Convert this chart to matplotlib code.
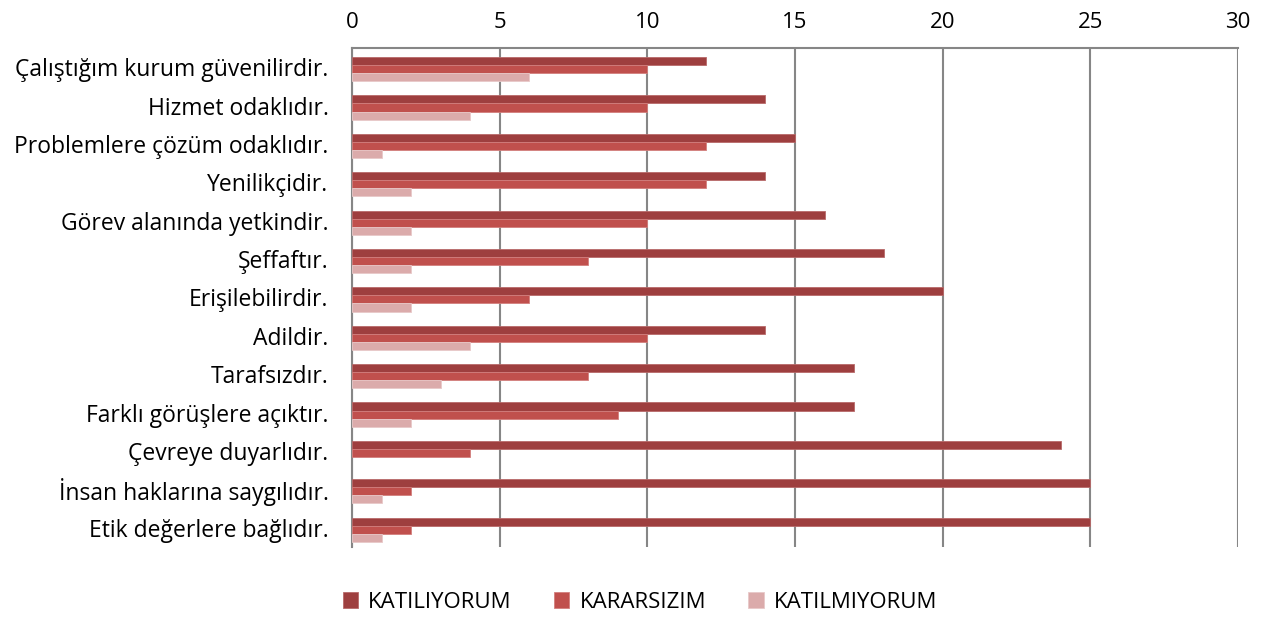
import numpy as np
import matplotlib
matplotlib.use("Agg")
import matplotlib.pyplot as plt

plt.rcParams['font.family'] = ['Open Sans', 'DejaVu Sans']

categories = ["Çalıştığım kurum güvenilirdir.", "Hizmet odaklıdır.", "Problemlere çözüm odaklıdır.",
              "Yenilikçidir.", "Görev alanında yetkindir.", "Şeffaftır.", "Erişilebilirdir.",
              "Adildir.", "Tarafsızdır.", "Farklı görüşlere açıktır.", "Çevreye duyarlıdır.",
              "İnsan haklarına saygılıdır.", "Etik değerlere bağlıdır."]
katiliyorum = [12, 14, 15, 14, 16, 18, 20, 14, 17, 17, 24, 25, 25]
kararsizim = [10, 10, 12, 12, 10, 8, 6, 10, 8, 9, 4, 2, 2]
katilmiyorum = [6, 4, 1, 2, 2, 2, 2, 4, 3, 2, 0, 1, 1]

series = [("KATILIYORUM", katiliyorum, "#9E3F3F", "#B86A6A"),
          ("KARARSIZIM", kararsizim, "#C0504D", "#D27F7D"),
          ("KATILMIYORUM", katilmiyorum, "#DBABAB", "#E8C9C9")]

fig = plt.figure(figsize=(12.72, 6.18), dpi=100)
ax = fig.add_axes([352/1272, 1-547/618, (1238-352)/1272, (547-48)/618])

y = np.arange(len(categories))
h = 0.21
for i, (name, vals, col, edge) in enumerate(series):
    lw = [0.6 if v > 0 else 0 for v in vals]
    ax.barh(y + (i - 1) * h + 0.05, vals, height=h, color=col, edgecolor=edge, linewidth=lw,
            label=name, zorder=3)

ax.set_ylim(len(categories) - 0.5, -0.5)
ax.set_xlim(0, 30)
ax.set_xticks(range(0, 31, 5))
ax.xaxis.tick_top()
ax.tick_params(axis='x', length=0, labelsize=16, pad=11)
ax.set_yticks(y)
ax.set_yticklabels(categories, fontsize=16.5)
ax.tick_params(axis='y', length=0, pad=17)
ax.grid(axis='x', color='#868686', linewidth=1.5, zorder=0)
for s in ['bottom', 'right']:
    ax.spines[s].set_visible(False)
for s in ['top', 'left']:
    ax.spines[s].set_color('#868686')
    ax.spines[s].set_linewidth(1.5)

fig.legend(loc='center', bbox_to_anchor=(0.503, 1 - 602/618), ncol=3, frameon=False, fontsize=16,
           handlelength=0.7, handleheight=0.7, columnspacing=1.9, handletextpad=0.45)

fig.savefig("out.png", dpi=100)
